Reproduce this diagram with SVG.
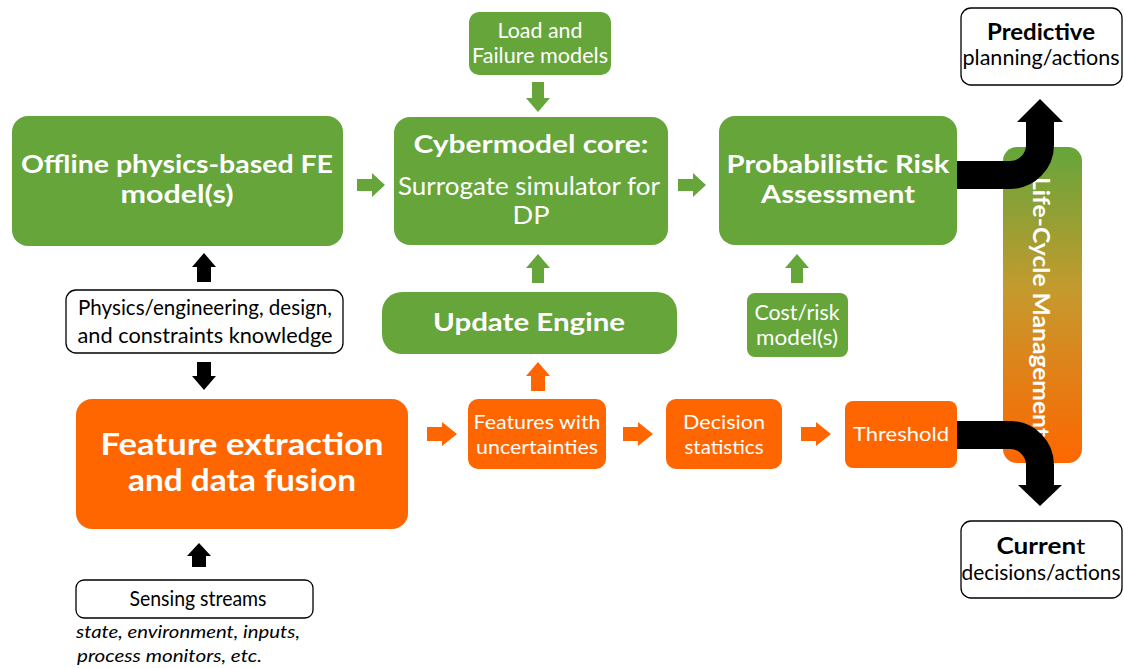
<svg xmlns="http://www.w3.org/2000/svg" width="1124" height="668" viewBox="0 0 1124 668">
  <defs>
    <linearGradient id="lcGrad" x1="0" y1="0" x2="0" y2="1">
      <stop offset="0" stop-color="#65a53a"/>
      <stop offset="0.45" stop-color="#c49a2e"/>
      <stop offset="1" stop-color="#ff6600"/>
    </linearGradient>
  </defs>
  <style>
    text { font-family: Lato, "Liberation Sans", sans-serif; }
    .green { fill: #65a53a; }
    .orange { fill: #ff6600; }
    .white { fill: #ffffff; stroke: #000000; stroke-width: 1.3; }
    .wt { fill: #ffffff; text-anchor: middle; }
    .bt { fill: #000000; text-anchor: middle; }
    .b { font-weight: bold; }
    .ga { fill: #65a53a; }
    .oa { fill: #ff6600; }
    .ka { fill: #000000; }
    .flow { fill: none; stroke: #000000; stroke-width: 28; }
  </style>

  <!-- life-cycle band behind the output arrows -->
  <g id="lifecycle">
    <rect x="1003" y="147" width="79" height="316" rx="14" fill="url(#lcGrad)"/>
    <text fill="#ffffff" class="b" font-size="23" transform="translate(1033,177) rotate(90)" textLength="260" lengthAdjust="spacingAndGlyphs">Life-Cycle Management</text>
  </g>

  <g id="offline">
    <rect class="green" x="12" y="116" width="331" height="130" rx="16"/>
    <text class="wt b" font-size="25" x="177" y="173" textLength="312" lengthAdjust="spacingAndGlyphs">Offline physics-based FE</text>
    <text class="wt b" font-size="25" x="177" y="203" textLength="113" lengthAdjust="spacingAndGlyphs">model(s)</text>
  </g>

  <g id="load-failure">
    <rect class="green" x="469" y="12" width="142" height="63" rx="10"/>
    <text class="wt" font-size="21" x="540" y="38" textLength="85" lengthAdjust="spacingAndGlyphs">Load and</text>
    <text class="wt" font-size="21" x="540" y="63" textLength="136" lengthAdjust="spacingAndGlyphs">Failure models</text>
  </g>

  <g id="cybermodel">
    <rect class="green" x="394" y="117" width="274" height="128" rx="16"/>
    <text class="wt b" font-size="25" x="531" y="153" textLength="235" lengthAdjust="spacingAndGlyphs">Cybermodel core:</text>
    <text class="wt" font-size="25" x="529" y="195" textLength="262" lengthAdjust="spacingAndGlyphs">Surrogate simulator for</text>
    <text class="wt" font-size="25" x="531" y="224" textLength="37" lengthAdjust="spacingAndGlyphs">DP</text>
  </g>

  <g id="pra">
    <rect class="green" x="719" y="116" width="238" height="129" rx="16"/>
    <text class="wt b" font-size="25" x="838" y="173" textLength="223" lengthAdjust="spacingAndGlyphs">Probabilistic Risk</text>
    <text class="wt b" font-size="25" x="838" y="203" textLength="154" lengthAdjust="spacingAndGlyphs">Assessment</text>
  </g>

  <g id="cost-risk">
    <rect class="green" x="747" y="293" width="101" height="64" rx="8"/>
    <text class="wt" font-size="21" x="797" y="320" textLength="85" lengthAdjust="spacingAndGlyphs">Cost/risk</text>
    <text class="wt" font-size="21" x="797" y="345" textLength="82" lengthAdjust="spacingAndGlyphs">model(s)</text>
  </g>

  <g id="update-engine">
    <rect class="green" x="382" y="292" width="295" height="62" rx="20"/>
    <text class="wt b" font-size="25" x="529" y="331" textLength="192" lengthAdjust="spacingAndGlyphs">Update Engine</text>
  </g>

  <g id="physics-knowledge">
    <rect class="white" x="66" y="290" width="277" height="63" rx="10"/>
    <text class="bt" font-size="21" x="205" y="315" textLength="254" lengthAdjust="spacingAndGlyphs">Physics/engineering, design,</text>
    <text class="bt" font-size="21" x="205" y="343" textLength="255" lengthAdjust="spacingAndGlyphs">and constraints knowledge</text>
  </g>

  <g id="feature-extraction">
    <rect class="orange" x="76" y="399" width="332" height="130" rx="16"/>
    <text class="wt b" font-size="30" x="242" y="455" textLength="283" lengthAdjust="spacingAndGlyphs">Feature extraction</text>
    <text class="wt b" font-size="30" x="242" y="491" textLength="228" lengthAdjust="spacingAndGlyphs">and data fusion</text>
  </g>

  <g id="features">
    <rect class="orange" x="468" y="399" width="138" height="70" rx="10"/>
    <text class="wt" font-size="20" x="537" y="429" textLength="127" lengthAdjust="spacingAndGlyphs">Features with</text>
    <text class="wt" font-size="20" x="537" y="454" textLength="122" lengthAdjust="spacingAndGlyphs">uncertainties</text>
  </g>

  <g id="decision">
    <rect class="orange" x="666" y="399" width="116" height="70" rx="10"/>
    <text class="wt" font-size="20" x="724" y="429" textLength="82" lengthAdjust="spacingAndGlyphs">Decision</text>
    <text class="wt" font-size="20" x="724" y="454" textLength="79" lengthAdjust="spacingAndGlyphs">statistics</text>
  </g>

  <g id="threshold">
    <rect class="orange" x="845" y="401" width="112" height="67" rx="8"/>
    <text class="wt" font-size="20" x="901" y="441" textLength="96" lengthAdjust="spacingAndGlyphs">Threshold</text>
  </g>

  <g id="sensing">
    <rect class="white" x="76" y="580" width="237" height="38" rx="8"/>
    <text class="bt" font-size="21" x="198" y="606" textLength="137" lengthAdjust="spacingAndGlyphs">Sensing streams</text>
    <text font-size="18" font-style="italic" x="76" y="638" fill="#000" textLength="224" lengthAdjust="spacingAndGlyphs">state, environment, inputs,</text>
    <text font-size="18" font-style="italic" x="77" y="662" fill="#000" textLength="185" lengthAdjust="spacingAndGlyphs">process monitors, etc.</text>
  </g>

  <g id="predictive">
    <rect class="white" x="961" y="8" width="161" height="77" rx="10"/>
    <text class="bt b" font-size="22" x="1041" y="40" textLength="108" lengthAdjust="spacingAndGlyphs">Predictive</text>
    <text class="bt" font-size="21" x="1041" y="65" textLength="157" lengthAdjust="spacingAndGlyphs">planning/actions</text>
  </g>

  <g id="current">
    <rect class="white" x="961" y="521" width="161" height="77" rx="10"/>
    <text class="bt" font-size="22" x="1041" y="554" textLength="89" lengthAdjust="spacingAndGlyphs"><tspan font-weight="bold">Curren</tspan>t</text>
    <text class="bt" font-size="21" x="1041" y="580" textLength="159" lengthAdjust="spacingAndGlyphs">decisions/actions</text>
  </g>

  <g id="connectors">
    <!-- green block arrows -->
    <polygon class="ga" points="357,179 372,179 372,173 385,185 372,197 372,191 357,191"/>
    <polygon class="ga" points="678,179 693,179 693,173 706,185 693,197 693,191 678,191"/>
    <polygon class="ga" points="532,82 544,82 544,98 550,98 538,112 526,98 532,98"/>
    <polygon class="ga" points="538,254 550,268 544,268 544,283 532,283 532,268 526,268"/>
    <polygon class="ga" points="797,254 809,268 803,268 803,283 791,283 791,268 785,268"/>
    <!-- orange block arrows -->
    <polygon class="oa" points="538,362 550,376 545,376 545,391 531,391 531,376 526,376"/>
    <polygon class="oa" points="427,427 442,427 442,422 457,434 442,446 442,441 427,441"/>
    <polygon class="oa" points="623,427 638,427 638,422 653,434 638,446 638,441 623,441"/>
    <polygon class="oa" points="801,427 816,427 816,422 831,434 816,446 816,441 801,441"/>
    <!-- black block arrows -->
    <polygon class="ka" points="204,253 216,267 211,267 211,282 197,282 197,267 192,267"/>
    <polygon class="ka" points="197,362 211,362 211,376 216,376 204,390 192,376 197,376"/>
    <polygon class="ka" points="199,543 211,556 206,556 206,567 192,567 192,556 187,556"/>
    <!-- output flows to predictive and current actions -->
    <path class="flow" d="M957,175 H1010 A30,30 0 0 0 1040,145 V121"/>
    <polygon class="ka" points="1040,99 1063,122 1017,122"/>
    <path class="flow" d="M957,435 H1010 A30,30 0 0 1 1040,465 V486"/>
    <polygon class="ka" points="1018,485 1062,485 1040,506"/>
  </g>
</svg>
